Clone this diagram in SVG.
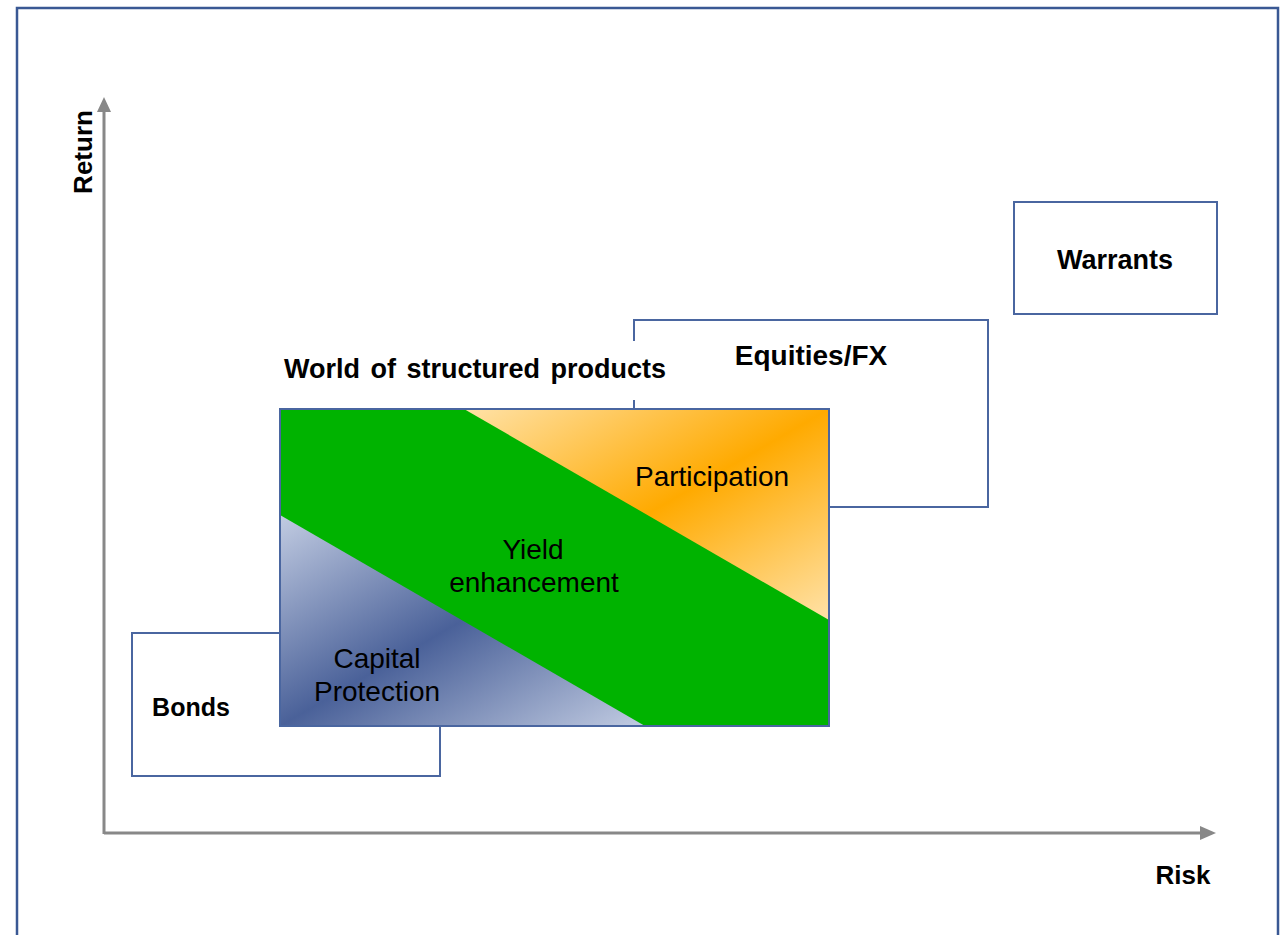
<svg xmlns="http://www.w3.org/2000/svg" width="1281" height="935" viewBox="0 0 1281 935">
<style>
.box{fill:#fff;stroke:#4a66a0;stroke-width:2}
.edge{fill:none;stroke:#4a66a0;stroke-width:2}
.axis{stroke:#888;stroke-width:3;fill:none}
.b{font-family:"Liberation Sans",Arial,sans-serif;font-weight:bold;font-size:26px;fill:#000}
.n{font-family:"Liberation Sans",Arial,sans-serif;font-size:28px;fill:#000}
</style>
<defs>
<linearGradient id="gOr" x1="0" y1="0" x2="1" y2="1">
<stop offset="0" stop-color="#ffe2a8"/>
<stop offset="0.5" stop-color="#ffaa00"/>
<stop offset="1" stop-color="#ffe2a8"/>
</linearGradient>
<linearGradient id="gBl" x1="0" y1="0" x2="1" y2="1">
<stop offset="0" stop-color="#c2cce2"/>
<stop offset="0.5" stop-color="#4a6199"/>
<stop offset="1" stop-color="#c2cce2"/>
</linearGradient>
</defs>
<rect x="0" y="0" width="1281" height="935" fill="#fff"/>
<path d="M17,940 V8 H1278 V940" fill="none" stroke="#3a5894" stroke-width="2.5"/>

<g id="axes">
<line class="axis" x1="104" y1="834" x2="104" y2="108"/>
<path d="M97,112 L104,97 L111,112 Z" fill="#888"/>
<line class="axis" x1="104" y1="833" x2="1202" y2="833"/>
<path d="M1200,826 L1216,833 L1200,840 Z" fill="#888"/>
<text class="b" transform="translate(92,152) rotate(-90)" text-anchor="middle">Return</text>
<text class="b" x="1183" y="884" text-anchor="middle">Risk</text>
</g>

<g id="warrants">
<rect class="box" x="1014" y="202" width="203" height="112"/>
<text class="b" x="1115" y="269" text-anchor="middle" style="font-size:27px">Warrants</text>
</g>

<g id="equities">
<path class="edge" d="M634,341 V320 H988 V507 H829"/>
<path class="edge" d="M634,400 V409"/>
<text class="b" x="811" y="365" text-anchor="middle" style="font-size:28px">Equities/FX</text>
</g>

<g id="bonds">
<rect class="box" x="132" y="633" width="308" height="143"/>
<text class="b" x="191" y="716" text-anchor="middle" style="font-size:25px">Bonds</text>
</g>

<g id="structured">
<text class="b" x="475" y="378" text-anchor="middle" style="font-size:27px;word-spacing:3px">World of structured products</text>
<rect x="280" y="409" width="549" height="317" fill="#00b300"/>
<polygon points="464,409 829,409 829,620" fill="url(#gOr)"/>
<polygon points="280,515 280,726 645,726" fill="url(#gBl)"/>
<rect x="280" y="409" width="549" height="317" fill="none" stroke="#4a66a0" stroke-width="2"/>
<text class="n" x="712" y="486" text-anchor="middle">Participation</text>
<text class="n" x="533" y="559" text-anchor="middle">Yield</text>
<text class="n" x="534" y="592" text-anchor="middle">enhancement</text>
<text class="n" x="377" y="668" text-anchor="middle">Capital</text>
<text class="n" x="377" y="701" text-anchor="middle">Protection</text>
</g>
</svg>
